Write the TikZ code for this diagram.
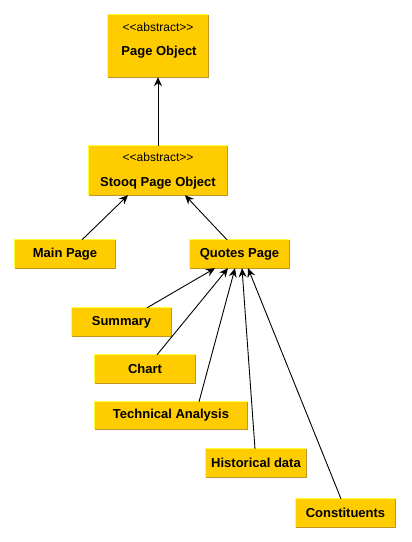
\documentclass[tikz,border=0pt]{standalone}
\usepackage{fontspec}
\setmainfont{Liberation Sans}
\usetikzlibrary{arrows.meta,calc}
\definecolor{boxfill}{RGB}{255,204,0}
\definecolor{boxlight}{RGB}{255,255,60}
\definecolor{boxdark}{RGB}{190,150,40}
\newcommand{\abstractlabel}{<\kern0pt<\kern0pt abstract>\kern0pt>}
\tikzset{
  box/.style={rectangle, fill=boxfill, inner sep=0pt, font=\fontsize{13}{15}\selectfont\bfseries},
  stereo/.style={inner sep=0pt, font=\fontsize{12}{14}\selectfont},
  title/.style={inner sep=0pt, font=\fontsize{13}{15}\selectfont\bfseries},
  arr/.style={-{Stealth[length=9pt,width=8pt,inset=3pt]}, line width=0.9pt, black},
}
\begin{document}
\begin{tikzpicture}[x=1pt,y=-1pt]
\useasboundingbox (0,0) rectangle (412,542);
% boxes
\node[box, minimum width=100pt, minimum height=62pt] (po) at (158,46) {};
\node[box, minimum width=138pt, minimum height=49pt] (stooq) at (158,170.5) {};
\node[box, minimum width=100pt, minimum height=28pt] (main) at (65,254) {Main Page};
\node[box, minimum width=99pt, minimum height=28pt] (quotes) at (239.5,254) {Quotes Page};
\node[box, minimum width=99pt, minimum height=28pt] (summary) at (121.5,322) {Summary};
\node[box, minimum width=100pt, minimum height=28pt] (chart) at (145,369) {Chart};
\node[box, minimum width=152pt, minimum height=27pt] (ta) at (171,415.5) {Technical Analysis};
\node[box, minimum width=100pt, minimum height=28pt] (hist) at (256,463) {Historical data};
\node[box, minimum width=99pt, minimum height=28pt] (const) at (345.5,513) {Constituents};
% texts of abstract boxes
\node[stereo] (po-st) at (158,27) {\abstractlabel};
\node[title] (po-t) at (159,52) {Page Object};
\node[stereo] (stooq-st) at (158,157) {\abstractlabel};
\node[title] (stooq-t) at (158,183) {Stooq Page Object};
% bevels
\foreach \n in {po,stooq,main,quotes,summary,chart,ta,hist,const}{
  \draw[boxlight, line width=1.2pt] (\n.south west) -- (\n.north west) -- (\n.north east);
  \draw[boxdark, line width=1.2pt] (\n.north east) -- (\n.south east) -- (\n.south west);
}
% connectors
\draw[arr] (stooq) -- (po);
\draw[arr] ([xshift=17pt]main.north) -- ([xshift=-30pt]stooq.south);
\draw[arr] ([xshift=-12.5pt]quotes.north) -- ([xshift=27pt]stooq.south);
\draw[arr] ([xshift=25.5pt]summary.north) -- ([xshift=-24.5pt]quotes.south);
\draw[arr] ([xshift=12pt]chart.north) -- ([xshift=-11.5pt]quotes.south);
\draw[arr] ([xshift=28pt]ta.north) -- ([xshift=-4.5pt]quotes.south);
\draw[arr] ([xshift=-1pt]hist.north) -- ([xshift=2.5pt]quotes.south);
\draw[arr] ([xshift=-4.5pt]const.north) -- ([xshift=8.5pt]quotes.south);
\end{tikzpicture}
\end{document}
